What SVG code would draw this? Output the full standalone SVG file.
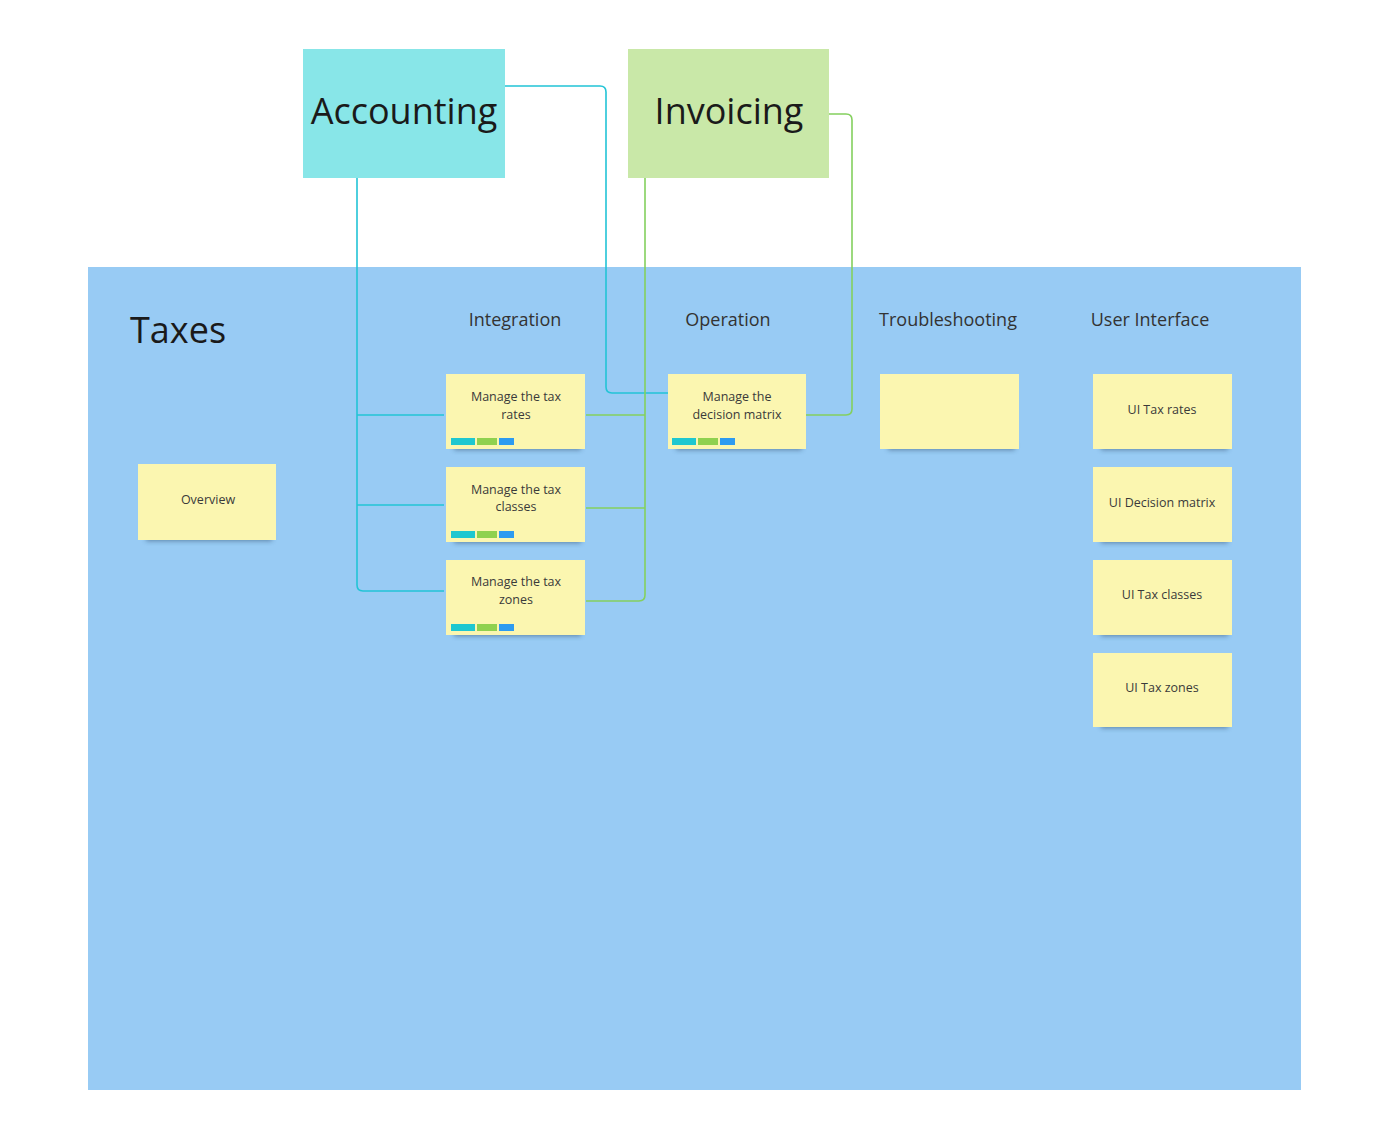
<svg xmlns="http://www.w3.org/2000/svg" width="1383" height="1129" viewBox="0 0 1383 1129">
<style>
.sticky{fill:#fbf6b0}
.st{font-family:"Open Sans",sans-serif;font-size:12.5px;fill:#3a3a3a;text-anchor:middle}
.hd{font-family:"Open Sans",sans-serif;font-size:18px;fill:#333;text-anchor:middle}
.big{font-family:"Open Sans",sans-serif;font-size:36px;fill:#1a1a1a;text-anchor:middle}
.cy{fill:none;stroke:#22c4d6;stroke-width:1.6}
.gr{fill:none;stroke:#84d05e;stroke-width:1.6}
.shadow{fill:#2a4a6a;opacity:0.55;filter:url(#blur)}
</style>
<defs>
<filter id="blur" x="-20%" y="-50%" width="140%" height="200%"><feGaussianBlur stdDeviation="2.5"/></filter>
<g id="tags">
<rect x="0" y="0" width="24" height="7" fill="#1ec7d0"/>
<rect x="26" y="0" width="20" height="7" fill="#8fd14f"/>
<rect x="48" y="0" width="15" height="7" fill="#2d9bf0"/>
</g>
</defs>
<rect width="1383" height="1129" fill="#ffffff"/>
<g id="frame-taxes">
<rect x="88" y="267" width="1213" height="823" fill="#98cbf4"/>
<text x="130" y="343" font-family="Open Sans, sans-serif" font-size="36" fill="#1a1a1a">Taxes</text>
<text class="hd" x="515" y="326">Integration</text>
<text class="hd" x="728" y="326">Operation</text>
<text class="hd" x="948" y="326">Troubleshooting</text>
<text class="hd" x="1150" y="326">User Interface</text>
</g>
<g id="connectors">
<path class="cy" d="M357 178 V585 Q357 591 363 591 H444"/>
<path class="cy" d="M357 415 H444"/>
<path class="cy" d="M357 505 H444"/>
<path class="cy" d="M505 86 H600 Q606 86 606 92 V387 Q606 393 612 393 H668"/>
<path class="gr" d="M645 178 V595 Q645 601 639 601 H586"/>
<path class="gr" d="M586 415 H645"/>
<path class="gr" d="M586 508 H645"/>
<path class="gr" d="M829 114 H846 Q852 114 852 120 V409 Q852 415 846 415 H806"/>
</g>
<g id="accounting">
<rect x="303" y="49" width="202" height="129" fill="#88e6e8"/>
<text class="big" x="404" y="124">Accounting</text>
</g>
<g id="invoicing">
<rect x="628" y="49" width="201" height="129" fill="#c9e8a8"/>
<text class="big" x="729" y="124">Invoicing</text>
</g>
<g id="overview">
<rect class="shadow" x="146" y="532" width="126" height="9"/>
<rect class="sticky" x="138" y="464" width="138" height="76"/>
<text class="st" x="208" y="504">Overview</text>
</g>
<g id="tax-rates">
<rect class="shadow" x="454" y="441" width="127" height="9"/>
<rect class="sticky" x="446" y="374" width="139" height="75"/>
<text class="st" x="516" y="401">Manage the tax</text>
<text class="st" x="516" y="419">rates</text>
<use href="#tags" x="451" y="438"/>
</g>
<g id="tax-classes">
<rect class="shadow" x="454" y="534" width="127" height="9"/>
<rect class="sticky" x="446" y="467" width="139" height="75"/>
<text class="st" x="516" y="494">Manage the tax</text>
<text class="st" x="516" y="511">classes</text>
<use href="#tags" x="451" y="531"/>
</g>
<g id="tax-zones">
<rect class="shadow" x="454" y="627" width="127" height="9"/>
<rect class="sticky" x="446" y="560" width="139" height="75"/>
<text class="st" x="516" y="586">Manage the tax</text>
<text class="st" x="516" y="604">zones</text>
<use href="#tags" x="451" y="624"/>
</g>
<g id="decision-matrix">
<rect class="shadow" x="676" y="441" width="126" height="9"/>
<rect class="sticky" x="668" y="374" width="138" height="75"/>
<text class="st" x="737" y="401">Manage the</text>
<text class="st" x="737" y="419">decision matrix</text>
<use href="#tags" x="672" y="438"/>
</g>
<g id="troubleshooting-note">
<rect class="shadow" x="888" y="441" width="127" height="9"/>
<rect class="sticky" x="880" y="374" width="139" height="75"/>
</g>
<g id="ui-tax-rates">
<rect class="shadow" x="1101" y="441" width="127" height="9"/>
<rect class="sticky" x="1093" y="374" width="139" height="75"/>
<text class="st" x="1162" y="414">UI Tax rates</text>
</g>
<g id="ui-decision-matrix">
<rect class="shadow" x="1101" y="534" width="127" height="9"/>
<rect class="sticky" x="1093" y="467" width="139" height="75"/>
<text class="st" x="1162" y="507">UI Decision matrix</text>
</g>
<g id="ui-tax-classes">
<rect class="shadow" x="1101" y="627" width="127" height="9"/>
<rect class="sticky" x="1093" y="560" width="139" height="75"/>
<text class="st" x="1162" y="599">UI Tax classes</text>
</g>
<g id="ui-tax-zones">
<rect class="shadow" x="1101" y="719" width="127" height="9"/>
<rect class="sticky" x="1093" y="653" width="139" height="74"/>
<text class="st" x="1162" y="692">UI Tax zones</text>
</g>
</svg>
